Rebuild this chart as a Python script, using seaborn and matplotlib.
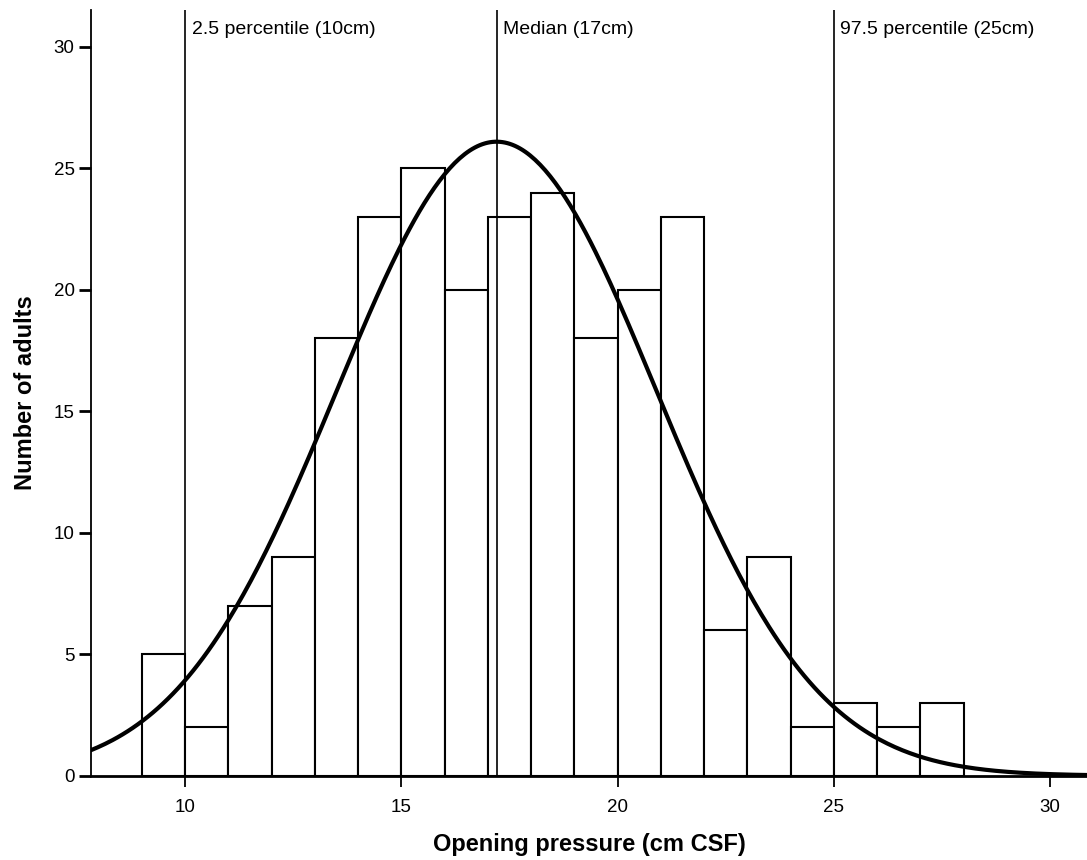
"""
    Histogram of CSF opening pressure with fitted normal curve
"""
import numpy as np
import pandas as pd
import seaborn as sns
import matplotlib
matplotlib.use('Agg')
import matplotlib.pyplot as plt

# bin edges (cm CSF) and number of adults per bin
bin_left = [9, 10, 11, 12, 13, 14, 15, 16, 17, 18, 19, 20, 21, 22, 23, 24, 25, 26, 27]
counts = [5, 2, 7, 9, 18, 23, 25, 20, 23, 24, 18, 20, 23, 6, 9, 2, 3, 2, 3]

# fitted normal curve
curve_mean = 17.2
curve_sd = 3.7

# reference lines
ref_values = [10, 17.2, 25]
ref_labels = ['2.5 percentile (10cm)', 'Median (17cm)', '97.5 percentile (25cm)']

sns.set_style('ticks')
plt.rcParams['font.family'] = ['Liberation Sans', 'DejaVu Sans']
for key in ['text.color', 'axes.labelcolor', 'xtick.color', 'ytick.color', 'axes.edgecolor']:
    plt.rcParams[key] = 'black'

df = pd.DataFrame({'Pressure': bin_left, 'Count': counts})
edges = bin_left + [bin_left[-1] + 1]

fig = plt.figure(figsize=(10.87, 8.6), dpi=100)
ax = fig.add_axes([0.084, 0.098, 0.916, 0.89])

sns.histplot(data=df, x='Pressure', weights='Count', bins=edges, ax=ax,
             color='white', edgecolor='black', linewidth=1.5, alpha=1)

for xv, label in zip(ref_values, ref_labels):
    ax.axvline(xv, color='black', linewidth=1.2, zorder=3)
    ax.text(xv + 0.15, 30.35, label, fontsize=14, ha='left', va='bottom')

xs = np.linspace(7.8, 31, 400)
n = sum(counts)
ys = n / (curve_sd * np.sqrt(2 * np.pi)) * np.exp(-0.5 * ((xs - curve_mean) / curve_sd) ** 2)
sns.lineplot(x=xs, y=ys, color='black', linewidth=3, ax=ax, zorder=4)

ax.set_xlim(7.83, 30.85)
ax.set_ylim(0, 31.5)
ax.set_xticks([10, 15, 20, 25, 30])
ax.set_yticks([0, 5, 10, 15, 20, 25, 30])
sns.despine(ax=ax)
ax.spines['left'].set_linewidth(1.3)
ax.spines['bottom'].set_linewidth(2)
ax.tick_params(axis='y', length=9, width=2, labelsize=13.5, pad=3)
ax.tick_params(axis='x', length=8, width=1.3, labelsize=13.5, pad=9)

ax.set_xlabel('Opening pressure (cm CSF)', fontsize=17, fontweight='bold', labelpad=12)
ax.set_ylabel('Number of adults', fontsize=17, fontweight='bold', labelpad=12)

fig.savefig('out.png', dpi=100)
